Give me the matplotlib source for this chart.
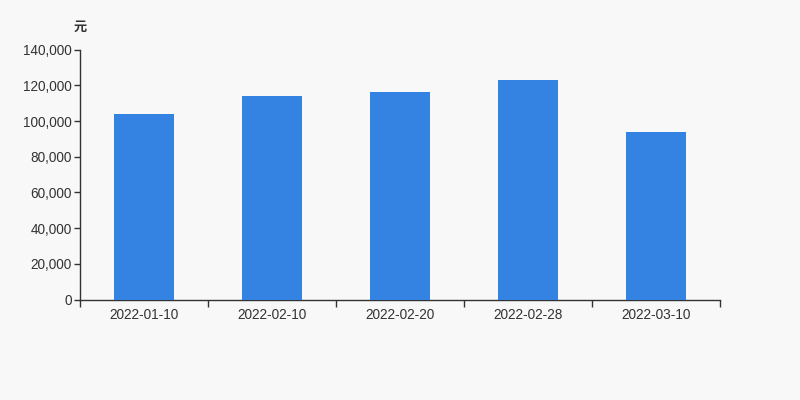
import matplotlib
matplotlib.use("Agg")
import matplotlib.pyplot as plt
from matplotlib.ticker import FuncFormatter, FixedLocator
import numpy as np

# ── data ──────────────────────────────────────────────
dates = ["2022-01-10", "2022-02-10", "2022-02-20", "2022-02-28", "2022-03-10"]
values = [104000, 114000, 116000, 123000, 94000]
yticks = [0, 20000, 40000, 60000, 80000, 100000, 120000, 140000]

BG = "#f8f8f8"
BAR = "#3482e2"
INK = "#333333"

plt.rcParams["font.family"] = ["Liberation Sans", "Noto Sans CJK SC", "DejaVu Sans"]

fig = plt.figure(figsize=(8, 4), dpi=100, facecolor=BG)
ax = fig.add_axes([0.1, 0.251, 0.8, 0.625])
ax.set_facecolor(BG)

x = np.arange(len(dates))
ax.bar(x, values, width=0.47, color=BAR, zorder=3)

ax.set_xlim(-0.5, len(dates) - 0.5)
ax.set_ylim(0, 140000)
ax.set_yticks(yticks)
ax.yaxis.set_major_formatter(FuncFormatter(lambda v, p: f"{int(v):,}"))

# category labels centred, ticks on boundaries
ax.set_xticks(x)
ax.set_xticklabels(dates)
ax.tick_params(axis="x", which="major", length=0, pad=6, labelsize=9.8, labelcolor=INK)
ax.xaxis.set_minor_locator(FixedLocator(np.arange(-0.5, len(dates), 1.0)))
ax.tick_params(axis="x", which="minor", length=5, width=1, color=INK)
ax.tick_params(axis="y", length=4, width=1, color=INK, labelsize=9.8, labelcolor=INK, pad=2)

for s in ["top", "right"]:
    ax.spines[s].set_visible(False)
for s in ["left", "bottom"]:
    ax.spines[s].set_color(INK)
    ax.spines[s].set_linewidth(1)

fig.text(0.1, 0.932, "元", ha="center", va="center", fontsize=9.5, color=INK,
         weight="bold", family=["Noto Sans CJK SC", "DejaVu Sans"])

fig.savefig("out.png", dpi=100, facecolor=BG)
